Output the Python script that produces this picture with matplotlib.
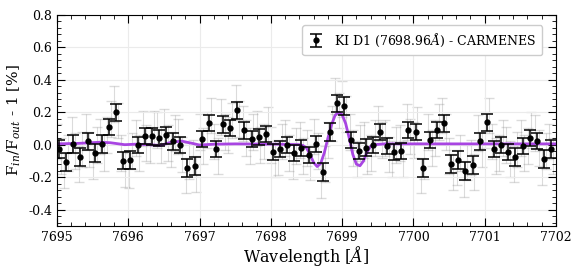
import numpy as np
import matplotlib
matplotlib.use('Agg')
from matplotlib import pyplot as plt
from matplotlib.ticker import AutoMinorLocator, MultipleLocator

plt.rcParams['font.family'] = 'DejaVu Serif'
plt.rcParams['mathtext.fontset'] = 'dejavuserif'

# binned points (0.1 A bins)
wl_bin = 7695.03 + 0.1 * np.arange(70)
flux_bin = [
    -0.027, -0.107, 0.006, -0.074, 0.020, -0.049, 0.004, 0.110, 0.199, -0.098,
    -0.096, -0.004, 0.053, 0.051, 0.043, 0.057, 0.020, -0.004, -0.144, -0.129,
    0.033, 0.135, -0.027, 0.125, 0.105, 0.211, 0.088, 0.033, 0.049, 0.068,
    -0.045, -0.029, -0.004, -0.053, -0.021, -0.064, 0.004, -0.170, 0.078, 0.254,
    0.236, 0.031, -0.039, -0.018, -0.004, 0.080, -0.010, -0.047, -0.039, 0.092,
    0.076, -0.144, 0.027, 0.090, 0.131, -0.121, -0.096, -0.160, -0.123, 0.020,
    0.137, -0.027, -0.004, -0.047, -0.078, -0.006, 0.039, 0.025, -0.090, -0.027]
err_bin = [
    0.055, 0.055, 0.055, 0.055, 0.055, 0.055, 0.055, 0.050, 0.050, 0.055,
    0.055, 0.050, 0.050, 0.050, 0.050, 0.050, 0.050, 0.050, 0.055, 0.055,
    0.050, 0.050, 0.050, 0.050, 0.050, 0.050, 0.050, 0.050, 0.050, 0.050,
    0.050, 0.050, 0.050, 0.050, 0.050, 0.050, 0.050, 0.055, 0.055, 0.055,
    0.055, 0.050, 0.050, 0.050, 0.050, 0.050, 0.050, 0.050, 0.050, 0.050,
    0.050, 0.055, 0.050, 0.050, 0.050, 0.055, 0.055, 0.055, 0.055, 0.050,
    0.050, 0.050, 0.050, 0.050, 0.055, 0.050, 0.050, 0.050, 0.055, 0.055]

# unbinned (gray) points
wl_raw = 7695.005 + 0.05 * np.arange(140)
flux_raw = [
    0.02, -0.07, -0.16, -0.05, 0.06, -0.04, -0.12, -0.03, 0.08, -0.03,
    -0.10, 0.00, 0.05, -0.05, 0.06, 0.16, 0.25, 0.15, -0.05, -0.15,
    -0.16, -0.04, 0.04, -0.05, 0.10, 0.01, 0.00, 0.10, 0.09, 0.00,
    0.11, 0.01, -0.03, 0.07, 0.05, -0.06, -0.19, -0.10, -0.08, -0.18,
    0.08, -0.01, 0.09, 0.18, 0.02, -0.07, 0.17, 0.08, 0.06, 0.15,
    0.26, 0.16, 0.13, 0.04, -0.01, 0.08, 0.10, 0.00, 0.02, 0.12,
    0.00, -0.09, -0.08, 0.02, 0.04, -0.05, -0.10, -0.01, 0.03, -0.07,
    -0.02, -0.11, 0.05, -0.04, -0.22, -0.12, 0.03, 0.13, 0.30, 0.21,
    0.28, 0.19, 0.08, -0.02, -0.09, 0.01, 0.03, -0.07, -0.05, 0.04,
    0.13, 0.03, 0.04, -0.06, -0.09, 0.00, 0.01, -0.09, 0.14, 0.05,
    0.03, 0.12, -0.19, -0.10, 0.08, -0.02, 0.04, 0.14, 0.18, 0.08,
    -0.07, -0.17, -0.14, -0.05, -0.21, -0.11, -0.08, -0.17, 0.07, -0.03,
    0.09, 0.18, 0.02, -0.07, -0.05, 0.04, 0.00, -0.09, -0.12, -0.03,
    0.04, -0.05, -0.01, 0.09, 0.07, -0.02, -0.14, -0.04, 0.02, -0.07]
err_raw = 0.11

# model line
wl_model = [7695.0, 7695.3, 7695.6, 7695.75, 7695.95, 7696.1, 7696.3, 7696.45,
            7696.6, 7696.75, 7696.9, 7697.0, 7697.2, 7697.5, 7697.8, 7698.1,
            7698.4, 7698.45, 7698.5, 7698.55, 7698.6, 7698.65, 7698.7, 7698.75,
            7698.8, 7698.85, 7698.9, 7698.95, 7699.0, 7699.05, 7699.1, 7699.15,
            7699.2, 7699.25, 7699.3, 7699.35, 7699.4, 7699.45, 7699.6, 7702.0]
flux_model = [0.005, 0.008, 0.015, 0.012, 0.0, 0.003, 0.0, -0.005,
              0.015, 0.022, 0.008, -0.002, 0.003, 0.005, 0.004, 0.003,
              0.0, -0.005, -0.02, -0.06, -0.11, -0.135, -0.115, -0.05,
              0.04, 0.12, 0.18, 0.2, 0.185, 0.13, 0.04, -0.06,
              -0.12, -0.13, -0.1, -0.045, -0.01, 0.0, 0.005, 0.005]

fig = plt.figure(figsize=(5.81, 2.72), dpi=100)
ax = fig.add_axes([0.098, 0.17, 0.859, 0.775])

ax.grid(True, color='#ebebeb', lw=0.8, zorder=0)
ax.errorbar(wl_raw, flux_raw, yerr=err_raw, fmt='none', ecolor='gray',
            alpha=0.28, capsize=3.5, elinewidth=0.8, zorder=1)
ax.plot(wl_model, flux_model, color='#a845e2', lw=2, zorder=2)
ax.errorbar(wl_bin, flux_bin, yerr=err_bin, fmt='o', color='black', ms=3.5,
            capsize=4, elinewidth=1.1, capthick=1.1, zorder=3,
            label=r'KI D1 (7698.96$\AA$) - CARMENES')

ax.set_xlim(7695, 7702)
ax.set_ylim(-0.5, 0.8)
ax.xaxis.set_major_locator(MultipleLocator(1))
ax.yaxis.set_major_locator(MultipleLocator(0.2))
ax.xaxis.set_minor_locator(AutoMinorLocator(5))
ax.yaxis.set_minor_locator(AutoMinorLocator(5))
ax.tick_params(which='both', direction='in', top=True, right=True, labelsize=9)
ax.tick_params(which='major', length=6)
ax.tick_params(which='minor', length=3)
ax.set_yticks([0.8, 0.6, 0.4, 0.2, 0.0, -0.2, -0.4])
ax.set_yticklabels(['0.8', '0.6', '0.4', '0.2', '0.0', '-0.2', '-0.4'])
ax.get_xaxis().get_major_formatter().set_useOffset(False)

ax.set_xlabel(r'Wavelength [$\AA$]', fontsize=11.5, labelpad=0)
ax.set_ylabel(r'F$_{in}$/F$_{out}$ - 1 [%]', fontsize=11)
leg = ax.legend(loc='upper right', fontsize=9, handlelength=1.2,
                borderpad=0.5, framealpha=1, bbox_to_anchor=(0.985, 0.98))
leg.get_frame().set_edgecolor('#cccccc')

plt.savefig('out.png', dpi=100)
